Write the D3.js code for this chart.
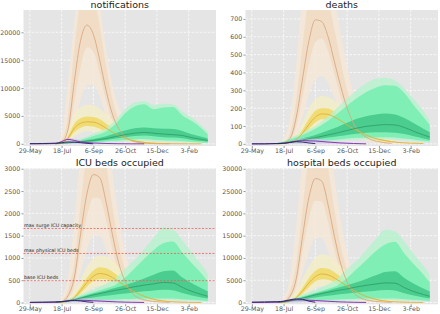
<!DOCTYPE html>
<html lang="en">
<head>
<meta charset="UTF-8">
<title>scenarios</title>
<style>
body { margin: 0; background: #fff; }
text { font-family: "DejaVu Sans", sans-serif; }
.tick text { fill: #555; }
.tick line { stroke: #555; stroke-width: 0.6; }
.title { fill: #222; font-size: 9.5px; text-anchor: middle; }
.capText { fill: #222; font-size: 4.8px; }
</style>
</head>
<body>
<script src="https://cdnjs.cloudflare.com/ajax/libs/d3/7.8.5/d3.min.js"></script>
<script>
// days since 29-May
const dateTicks = [0, 50, 100, 150, 200, 250];
const dateLabels = ['29-May', '18-Jul', '6-Sep', '26-Oct', '15-Dec', '3-Feb'];

const orangeDays = [40, 50, 60, 70, 80, 90, 100, 110, 120, 130, 140, 150, 160, 170, 185, 200, 220];
const yellowDays = [40, 50, 60, 70, 80, 90, 100, 110, 120, 130, 140, 150, 160, 175, 190, 210, 230, 250, 270];
const greenDays = [40, 50, 60, 80, 100, 120, 135, 150, 165, 180, 195, 210, 225, 240, 255, 270, 280];
const purpleDays = [0, 20, 40, 50, 60, 70, 80, 100, 120, 140, 160, 180];
const navyDays = [0, 10, 20, 30, 40, 50, 55, 60, 70, 80, 90, 100];

// notifications
const notifOrangeMed = [0, 300, 2500, 11200, 18600, 21300, 19600, 15000, 9600, 5300, 2700, 1300, 600, 250, 80, 20, 0];
const notifOrangeInLo = [0, 150, 1500, 7500, 13800, 17300, 16500, 12500, 7800, 4000, 1900, 900, 400, 150, 50, 10, 0];
const notifOrangeInHi = [0, 700, 5000, 17000, 25500, 28000, 26500, 21000, 14000, 8000, 4300, 2200, 1100, 500, 180, 50, 0];
const notifOrangeOutLo = [0, 30, 500, 3500, 8000, 10500, 10500, 8500, 5000, 2500, 1100, 450, 180, 60, 15, 0, 0];
const notifOrangeOutHi = [100, 1500, 11000, 22000, 32000, 36000, 34000, 25000, 17000, 10500, 6500, 4000, 2400, 1300, 600, 250, 60];
const notifYellowMed = [0, 100, 1000, 2800, 3700, 3950, 3900, 3500, 2800, 2100, 1500, 1000, 650, 320, 150, 50, 15, 5, 0];
const notifYellowInLo = [0, 60, 700, 2100, 2900, 3200, 3100, 2700, 2100, 1500, 1050, 680, 420, 200, 90, 30, 8, 2, 0];
const notifYellowInHi = [0, 150, 1400, 3600, 4600, 4900, 4800, 4400, 3600, 2800, 2050, 1400, 950, 480, 230, 80, 25, 8, 0];
const notifYellowOutLo = [0, 20, 350, 1300, 2000, 2300, 2200, 1900, 1400, 1000, 650, 400, 240, 100, 40, 10, 0, 0, 0];
const notifYellowOutHi = [0, 400, 2500, 5300, 6600, 7000, 6900, 6300, 5300, 4200, 3200, 2300, 1600, 900, 480, 180, 70, 25, 5];
const notifGreenMed = [30, 80, 180, 350, 600, 950, 1300, 1650, 1900, 2050, 1900, 1750, 1650, 1500, 1100, 800, 600];
const notifGreenDarkLo = [20, 50, 120, 250, 430, 700, 950, 1200, 1400, 1500, 1350, 1200, 1150, 1000, 700, 500, 380];
const notifGreenDarkHi = [40, 110, 260, 500, 850, 1350, 1900, 2400, 2800, 2950, 2800, 2700, 2650, 2300, 1700, 1250, 950];
const notifGreenMintLo = [10, 30, 70, 150, 260, 420, 550, 700, 800, 850, 750, 650, 600, 500, 350, 250, 180];
const notifGreenMintHi = [60, 150, 300, 700, 1400, 2200, 3600, 5500, 6700, 7100, 6200, 6500, 6600, 5100, 4100, 2800, 1700];
const notifGreenPaleLo = [5, 15, 40, 90, 150, 250, 330, 420, 480, 500, 450, 380, 330, 280, 200, 140, 100];
const notifGreenPaleHi = [80, 200, 400, 900, 1800, 2800, 4300, 6200, 7400, 7700, 7000, 7200, 7100, 5800, 4700, 3300, 2200];
const notifPurple = [0, 0, 50, 400, 800, 600, 350, 150, 60, 20, 5, 0];
const notifPurpleHi = [0, 0, 80, 600, 1100, 900, 600, 300, 120, 40, 10, 0];
const notifNavy = [30, 40, 60, 80, 120, 200, 280, 330, 300, 200, 80, 10];

// deaths
const deathOrangeMed = [0, 5, 30, 150, 370, 580, 695, 685, 600, 460, 320, 200, 115, 65, 28, 12, 3];
const deathOrangeInLo = [0, 3, 20, 100, 270, 450, 570, 590, 520, 390, 260, 160, 90, 50, 20, 8, 2];
const deathOrangeInHi = [0, 10, 60, 250, 560, 830, 920, 900, 800, 640, 460, 300, 180, 100, 45, 20, 5];
const deathOrangeOutLo = [0, 1, 8, 50, 150, 280, 360, 380, 340, 260, 170, 100, 55, 30, 12, 4, 1];
const deathOrangeOutHi = [2, 30, 150, 450, 850, 1050, 1100, 1050, 950, 800, 620, 430, 280, 170, 80, 35, 10];
const deathYellowMed = [0, 2, 8, 25, 60, 110, 150, 168, 165, 150, 130, 105, 85, 58, 35, 18, 8, 4, 2];
const deathYellowInLo = [0, 1, 5, 18, 45, 85, 120, 138, 138, 125, 105, 85, 68, 45, 27, 13, 6, 3, 1];
const deathYellowInHi = [0, 3, 12, 35, 80, 140, 185, 200, 198, 180, 158, 130, 105, 72, 45, 23, 10, 5, 2];
const deathYellowOutLo = [0, 0, 2, 10, 28, 55, 80, 95, 95, 88, 75, 60, 48, 30, 18, 8, 3, 1, 0];
const deathYellowOutHi = [0, 5, 20, 55, 120, 200, 250, 268, 262, 240, 210, 175, 140, 95, 60, 32, 15, 7, 3];
const deathGreenMed = [2, 5, 10, 22, 35, 50, 62, 75, 88, 98, 104, 108, 106, 92, 70, 50, 38];
const deathGreenDarkLo = [1, 3, 6, 15, 25, 35, 42, 50, 57, 62, 65, 65, 62, 55, 42, 30, 22];
const deathGreenDarkHi = [3, 8, 16, 32, 50, 75, 95, 118, 140, 155, 165, 170, 165, 145, 115, 85, 65];
const deathGreenMintLo = [0, 1, 3, 8, 14, 20, 25, 30, 34, 36, 37, 37, 35, 30, 24, 17, 13];
const deathGreenMintHi = [5, 12, 25, 50, 85, 130, 170, 215, 255, 290, 315, 328, 325, 285, 215, 150, 105];
const deathGreenPaleLo = [0, 0, 1, 4, 8, 12, 16, 20, 23, 24, 25, 25, 23, 20, 16, 11, 8];
const deathGreenPaleHi = [7, 16, 32, 65, 100, 155, 205, 255, 300, 340, 365, 370, 355, 310, 250, 185, 130];
const deathPurple = [0, 0, 1, 3, 8, 14, 18, 16, 10, 5, 2, 0];
const deathPurpleHi = [0, 0, 2, 6, 15, 25, 30, 28, 18, 10, 4, 1];
const deathNavy = [0, 0, 0, 1, 2, 3, 5, 8, 12, 10, 5, 1];

// ICU beds occupied
const icuOrangeMed = [0, 20, 150, 560, 1550, 2450, 2870, 2800, 2250, 1520, 880, 470, 220, 110, 45, 18, 5];
const icuOrangeInLo = [0, 10, 90, 380, 1200, 1950, 2350, 2330, 1850, 1200, 680, 340, 160, 75, 30, 10, 2];
const icuOrangeInHi = [0, 40, 280, 900, 2200, 3400, 3900, 3800, 3100, 2150, 1300, 730, 370, 180, 75, 30, 8];
const icuOrangeOutLo = [0, 4, 40, 200, 700, 1200, 1500, 1500, 1200, 760, 420, 200, 90, 40, 15, 5, 1];
const icuOrangeOutHi = [2, 100, 600, 1800, 3400, 4600, 5000, 4800, 4000, 2900, 1900, 1150, 650, 350, 150, 60, 15];
const icuYellowMed = [0, 5, 30, 110, 270, 450, 590, 650, 630, 560, 470, 370, 280, 170, 90, 35, 12, 4, 1];
const icuYellowInLo = [0, 3, 20, 80, 210, 360, 480, 530, 520, 460, 380, 300, 220, 130, 70, 25, 8, 3, 1];
const icuYellowInHi = [0, 8, 45, 150, 340, 560, 720, 790, 770, 690, 580, 460, 350, 210, 115, 45, 16, 5, 1];
const icuYellowOutLo = [0, 1, 10, 45, 130, 240, 330, 370, 370, 330, 270, 210, 150, 85, 45, 15, 5, 1, 0];
const icuYellowOutHi = [0, 15, 80, 250, 520, 800, 980, 1050, 1030, 930, 800, 650, 500, 310, 175, 70, 25, 8, 2];
const icuGreenMed = [5, 15, 35, 100, 170, 230, 275, 310, 355, 390, 420, 450, 440, 340, 250, 180, 140];
const icuGreenDarkLo = [3, 8, 20, 60, 110, 150, 180, 200, 230, 250, 270, 285, 275, 215, 160, 115, 90];
const icuGreenDarkHi = [8, 22, 45, 120, 200, 270, 330, 390, 460, 540, 620, 700, 720, 560, 430, 320, 250];
const icuGreenMintLo = [1, 3, 8, 25, 45, 60, 70, 78, 85, 90, 92, 92, 88, 75, 60, 45, 35];
const icuGreenMintHi = [12, 30, 60, 140, 230, 320, 400, 560, 770, 980, 1180, 1330, 1370, 1120, 880, 650, 460];
const icuGreenPaleLo = [0, 1, 4, 12, 25, 35, 42, 48, 52, 55, 56, 56, 52, 45, 35, 26, 20];
const icuGreenPaleHi = [15, 40, 80, 180, 290, 420, 550, 760, 960, 1200, 1450, 1680, 1640, 1400, 1120, 850, 650];
const icuPurple = [0, 0, 5, 20, 40, 50, 50, 40, 25, 12, 5, 1];
const icuPurpleHi = [0, 0, 8, 35, 70, 90, 95, 80, 55, 30, 12, 3];
const icuNavy = [5, 8, 10, 12, 15, 20, 25, 35, 45, 35, 15, 3];
const icuCapacity = [1660, 1100, 490];
const icuCapacityLabels = ['max surge ICU capacity', 'max physical ICU beds', 'base ICU beds'];

// hospital beds occupied
const hospOrangeMed = [0, 200, 1400, 5400, 15000, 23700, 27800, 27200, 21900, 14800, 8600, 4600, 2200, 1100, 450, 180, 50];
const hospOrangeInLo = [0, 100, 900, 3700, 11600, 18900, 22800, 22600, 18000, 11700, 6600, 3300, 1600, 750, 300, 100, 20];
const hospOrangeInHi = [0, 400, 2700, 8700, 21300, 33000, 37800, 36800, 30000, 20800, 12600, 7100, 3600, 1750, 730, 290, 80];
const hospOrangeOutLo = [0, 40, 400, 1900, 6800, 11600, 14500, 14500, 11600, 7400, 4100, 1900, 870, 390, 150, 50, 10];
const hospOrangeOutHi = [20, 1000, 5800, 17500, 33000, 44600, 48500, 46500, 38800, 28100, 18400, 11200, 6300, 3400, 1450, 580, 150];
const hospYellowMed = [0, 50, 300, 1050, 2650, 4400, 5800, 6400, 6200, 5500, 4600, 3650, 2750, 1650, 880, 340, 120, 40, 10];
const hospYellowInLo = [0, 30, 200, 780, 2050, 3500, 4700, 5200, 5100, 4500, 3700, 2950, 2150, 1270, 690, 245, 80, 30, 10];
const hospYellowInHi = [0, 80, 440, 1470, 3330, 5500, 7100, 7750, 7550, 6770, 5700, 4500, 3430, 2060, 1130, 440, 160, 50, 10];
const hospYellowOutLo = [0, 10, 100, 440, 1270, 2350, 3240, 3630, 3630, 3240, 2650, 2060, 1470, 830, 440, 150, 50, 10, 0];
const hospYellowOutHi = [0, 150, 800, 2500, 5300, 8200, 10000, 10800, 10600, 9500, 8200, 6600, 5100, 3150, 1800, 720, 260, 80, 20];
const hospGreenMed = [50, 150, 350, 1000, 1700, 2300, 2700, 3050, 3500, 3850, 4150, 4400, 4350, 3350, 2450, 1800, 1400];
const hospGreenDarkLo = [30, 80, 200, 600, 1100, 1500, 1800, 2000, 2250, 2450, 2650, 2800, 2700, 2100, 1580, 1130, 890];
const hospGreenDarkHi = [80, 220, 450, 1200, 2000, 2700, 3300, 3850, 4550, 5300, 6100, 6850, 7000, 5500, 4200, 3150, 2450];
const hospGreenMintLo = [10, 30, 80, 250, 450, 600, 700, 780, 850, 900, 920, 920, 880, 750, 600, 450, 350];
const hospGreenMintHi = [120, 300, 600, 1400, 2200, 3100, 3900, 5500, 7500, 9500, 11500, 13000, 13600, 11000, 8600, 6300, 4500];
const hospGreenPaleLo = [0, 10, 40, 120, 250, 350, 420, 480, 520, 550, 560, 560, 520, 450, 350, 260, 200];
const hospGreenPaleHi = [150, 400, 800, 1800, 2800, 4100, 5400, 7500, 9400, 11800, 14200, 16300, 16000, 13700, 10900, 8300, 6300];
const hospPurple = [0, 0, 50, 250, 500, 600, 580, 450, 280, 130, 50, 10];
const hospPurpleHi = [0, 0, 80, 400, 800, 950, 900, 700, 450, 220, 90, 20];
const hospNavy = [100, 120, 150, 180, 200, 300, 450, 600, 800, 700, 300, 50];

const W = 192.5, H = 136;
const xDomain = [-10, 293];

let svg = d3.select('body').append('svg')
    .attr('width', 440)
    .attr('height', 314);

let panels = [
    {title: 'notifications', left: 23.5, top: 10, y: [-390, 24000], ticks: [0, 5000, 10000, 15000, 20000],
     orange: [notifOrangeMed, notifOrangeInLo, notifOrangeInHi, notifOrangeOutLo, notifOrangeOutHi],
     yellow: [notifYellowMed, notifYellowInLo, notifYellowInHi, notifYellowOutLo, notifYellowOutHi],
     green: [notifGreenMed, notifGreenDarkLo, notifGreenDarkHi, notifGreenMintLo, notifGreenMintHi, notifGreenPaleLo, notifGreenPaleHi],
     purple: [notifPurple, notifPurpleHi], navy: notifNavy},
    {title: 'deaths', left: 245.5, top: 10, y: [-12, 750], ticks: [0, 100, 200, 300, 400, 500, 600, 700],
     orange: [deathOrangeMed, deathOrangeInLo, deathOrangeInHi, deathOrangeOutLo, deathOrangeOutHi],
     yellow: [deathYellowMed, deathYellowInLo, deathYellowInHi, deathYellowOutLo, deathYellowOutHi],
     green: [deathGreenMed, deathGreenDarkLo, deathGreenDarkHi, deathGreenMintLo, deathGreenMintHi, deathGreenPaleLo, deathGreenPaleHi],
     purple: [deathPurple, deathPurpleHi], navy: deathNavy},
    {title: 'ICU beds occupied', left: 23.5, top: 168.3, y: [-40, 3010], ticks: [0, 500, 1000, 1500, 2000, 2500, 3000],
     orange: [icuOrangeMed, icuOrangeInLo, icuOrangeInHi, icuOrangeOutLo, icuOrangeOutHi],
     yellow: [icuYellowMed, icuYellowInLo, icuYellowInHi, icuYellowOutLo, icuYellowOutHi],
     green: [icuGreenMed, icuGreenDarkLo, icuGreenDarkHi, icuGreenMintLo, icuGreenMintHi, icuGreenPaleLo, icuGreenPaleHi],
     purple: [icuPurple, icuPurpleHi], navy: icuNavy, capacity: true},
    {title: 'hospital beds occupied', left: 245.5, top: 168.3, y: [-400, 30100], ticks: [0, 5000, 10000, 15000, 20000, 25000, 30000],
     orange: [hospOrangeMed, hospOrangeInLo, hospOrangeInHi, hospOrangeOutLo, hospOrangeOutHi],
     yellow: [hospYellowMed, hospYellowInLo, hospYellowInHi, hospYellowOutLo, hospYellowOutHi],
     green: [hospGreenMed, hospGreenDarkLo, hospGreenDarkHi, hospGreenMintLo, hospGreenMintHi, hospGreenPaleLo, hospGreenPaleHi],
     purple: [hospPurple, hospPurpleHi], navy: hospNavy}
];

panels.forEach((p, pi) => {
    let x = d3.scaleLinear().domain(xDomain).range([p.left, p.left + W]);
    let y = d3.scaleLinear().domain(p.y).range([p.top + H, p.top]);
    let g = svg.append('g');

    g.append('rect')
        .attr('x', p.left).attr('y', p.top)
        .attr('width', W).attr('height', H)
        .attr('fill', '#e5e5e5');

    g.append('clipPath').attr('id', 'clip' + pi)
        .append('rect')
        .attr('x', p.left).attr('y', p.top)
        .attr('width', W).attr('height', H);

    // grid
    g.selectAll('.hgrid').data(p.ticks).enter().append('line')
        .attr('x1', p.left).attr('x2', p.left + W)
        .attr('y1', d => y(d)).attr('y2', d => y(d))
        .attr('stroke', '#fff').attr('stroke-width', 0.7).attr('stroke-dasharray', '2.5,1.5');
    g.selectAll('.vgrid').data(dateTicks).enter().append('line')
        .attr('y1', p.top).attr('y2', p.top + H)
        .attr('x1', d => x(d)).attr('x2', d => x(d))
        .attr('stroke', '#fff').attr('stroke-width', 0.7).attr('stroke-dasharray', '2.5,1.5');

    let plot = g.append('g').attr('clip-path', `url(#clip${pi})`);

    let band = (days, lo, hi, color, op) => {
        let pts = days.map((d, i) => [d, lo[i], hi[i]]);
        plot.append('path').datum(pts)
            .attr('d', d3.area().x(d => x(d[0])).y0(d => y(d[1])).y1(d => y(d[2])).curve(d3.curveMonotoneX))
            .attr('fill', color).attr('fill-opacity', op);
    };
    let line = (days, vals, color, w) => {
        let pts = days.map((d, i) => [d, vals[i]]);
        plot.append('path').datum(pts)
            .attr('d', d3.line().x(d => x(d[0])).y(d => y(d[1])).curve(d3.curveMonotoneX))
            .attr('fill', 'none').attr('stroke', color).attr('stroke-width', w);
    };

    band(orangeDays, p.orange[3], p.orange[4], '#f6e8d8', 0.85);
    band(orangeDays, p.orange[1], p.orange[2], '#f0dac2', 0.85);
    band(yellowDays, p.yellow[3], p.yellow[4], '#f4efc6', 0.8);
    band(yellowDays, p.yellow[1], p.yellow[2], '#f0d862', 0.85);
    band(greenDays, p.green[5], p.green[6], '#b6f2cd', 0.8);
    band(greenDays, p.green[3], p.green[4], '#78eeb1', 0.9);
    band(greenDays, p.green[1], p.green[2], '#45c98a', 0.9);
    band(purpleDays, p.purple[0].map(() => 0), p.purple[1], '#d9c2ec', 0.7);

    line(orangeDays, p.orange[0], '#d8a882', 0.9);
    line(yellowDays, p.yellow[0], '#e0b040', 0.9);
    line(greenDays, p.green[0], '#2f9a66', 0.8);
    line(purpleDays, p.purple[0], '#7a2aa8', 0.9);
    line(navyDays, p.navy, '#23205e', 0.9);

    if (p.capacity) {
        icuCapacity.forEach((c, i) => {
            g.append('line')
                .attr('x1', p.left).attr('x2', p.left + W)
                .attr('y1', y(c)).attr('y2', y(c))
                .attr('stroke', '#f0605a').attr('stroke-width', 0.8).attr('stroke-dasharray', '2,1.5');
            g.append('text').attr('class', 'capText')
                .attr('x', p.left + 0.5).attr('y', y(c) - 1.2)
                .text(icuCapacityLabels[i]);
        });
    }

    let yAxis = g.append('g')
        .attr('transform', `translate(${p.left},0)`)
        .call(d3.axisLeft(y).tickValues(p.ticks).tickFormat(d3.format('d')).tickSize(2).tickPadding(1.2));
    yAxis.select('.domain').remove();

    let xAxis = g.append('g')
        .attr('transform', `translate(0,${p.top + H})`)
        .call(d3.axisBottom(x).tickValues(dateTicks).tickFormat((d, i) => dateLabels[i]).tickSize(2).tickPadding(0.5));
    xAxis.select('.domain').remove();

    g.selectAll('.tick text')
        .attr('font-family', '"DejaVu Sans", sans-serif')
        .attr('font-size', 6.3);

    g.append('text').attr('class', 'title')
        .attr('x', p.left + W / 2).attr('y', p.top - 2.2)
        .text(p.title);
});
</script>
</body>
</html>
